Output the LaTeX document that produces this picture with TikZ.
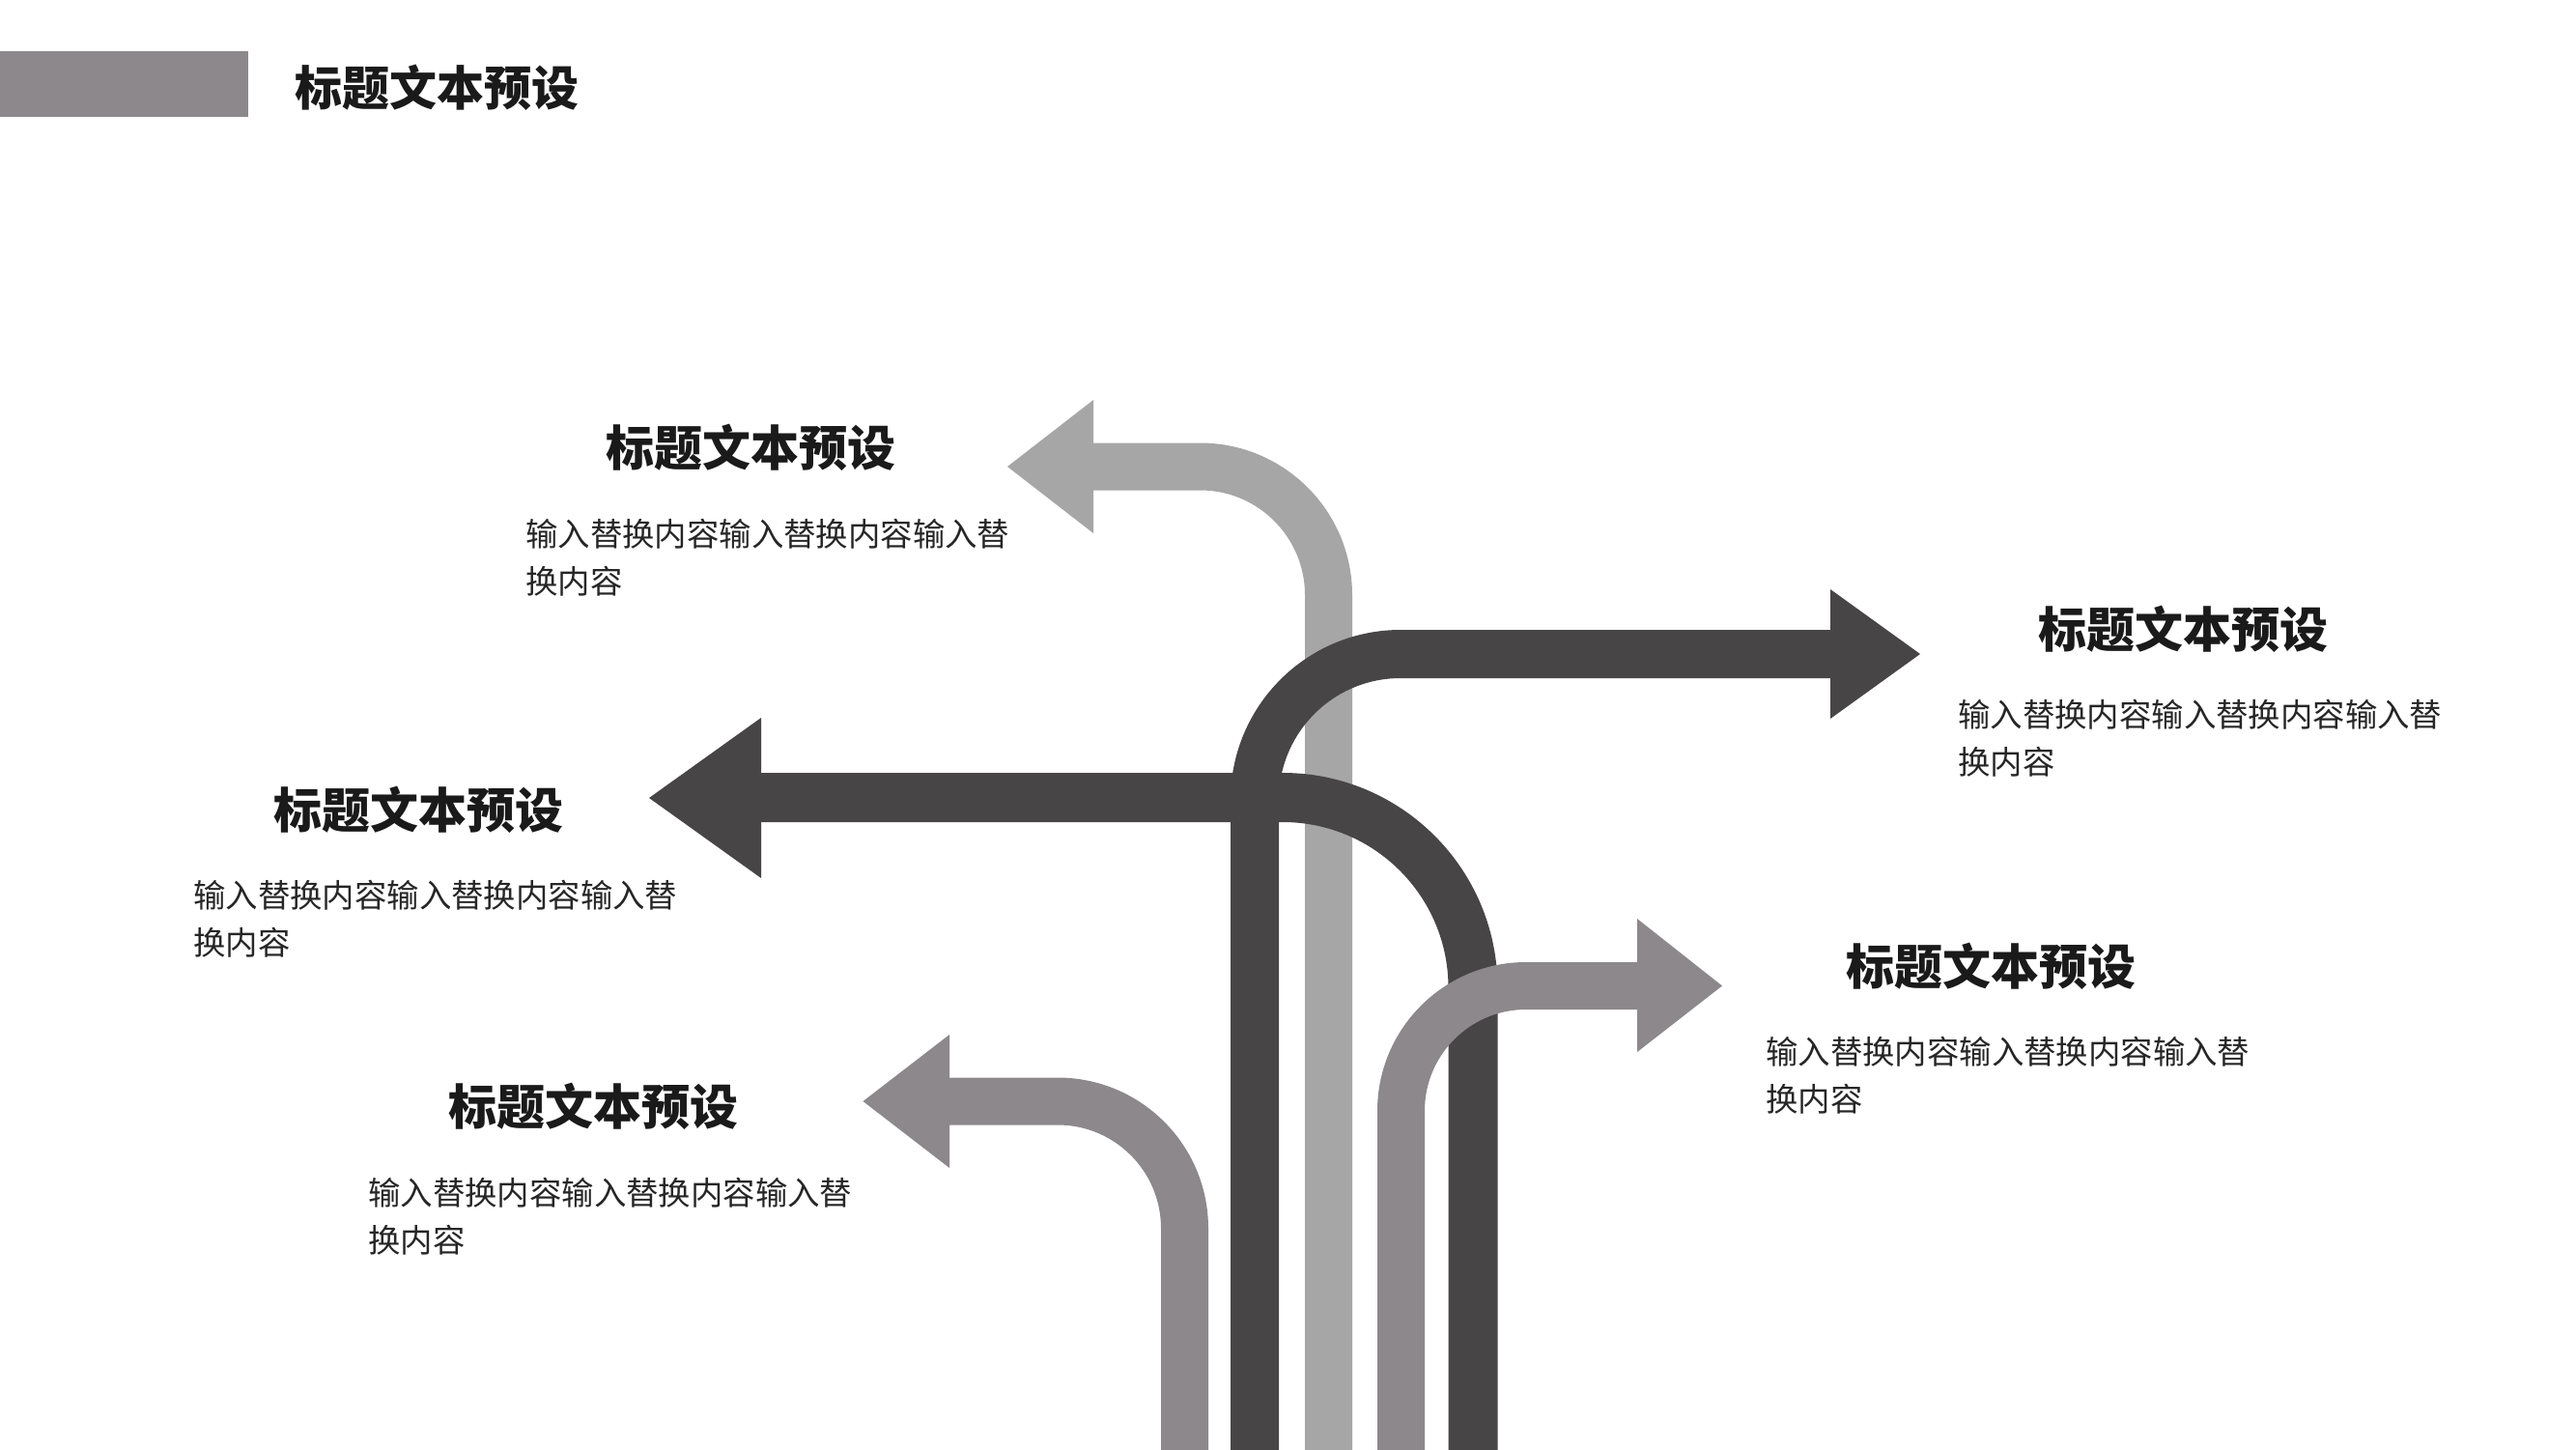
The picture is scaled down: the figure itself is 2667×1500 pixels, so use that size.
\documentclass[tikz,border=0pt]{standalone}
\usepackage{fontspec}
\setmainfont{Noto Sans CJK SC}
\definecolor{lightg}{HTML}{A6A6A6}
\definecolor{darkg}{HTML}{474546}
\definecolor{midg}{HTML}{8C888B}
\definecolor{txt}{HTML}{1A1A1A}
\definecolor{bodytxt}{HTML}{262626}
\tikzset{
  titletext/.style={anchor=west, inner sep=0pt, text=txt, font=\fontsize{50}{60}\selectfont\bfseries},
  bodytext/.style={anchor=west, inner sep=0pt, align=left, text=bodytxt, font=\fontsize{33.4}{49}\selectfont},
  lshaft/.style={draw=lightg, line width=49pt},
  dshaft/.style={draw=darkg, line width=50pt},
  mshaft/.style={draw=midg, line width=49pt}
}
\begin{document}
\begin{tikzpicture}[x=1pt,y=-1pt]
\fill[white] (0,0) rectangle (2667,1500);
\useasboundingbox (0,0) rectangle (2667,1500);
% header bar and title
\fill[midg] (0,53) rectangle (257,121);
\node[titletext, font=\fontsize{49}{58}\selectfont\bfseries] (head) at (305,91) {标题文本预设};
% light gray arrow (up-left)
\draw[lshaft, rounded corners=133pt] (1375.5,1510) -- (1375.5,483) -- (1130,483);
\fill[lightg] (1132,414) -- (1043,483) -- (1132,552) -- cycle;
% dark arrow (right)
\draw[dshaft, rounded corners=151pt] (1299,1510) -- (1299,677) -- (1897,677);
\fill[darkg] (1895,610) -- (1988,677) -- (1895,744) -- cycle;
% dark arrow (left)
\draw[darkg, line width=51pt, rounded corners=197pt] (1525,1510) -- (1525,825.5) -- (786,825.5);
\fill[darkg] (788,743) -- (672,826) -- (788,909) -- cycle;
% mid gray arrow (right)
\draw[mshaft, rounded corners=129.5pt] (1450.5,1510) -- (1450.5,1020.5) -- (1697,1020.5);
\fill[midg] (1695,951) -- (1783,1020.5) -- (1695,1089) -- cycle;
% mid gray arrow (left)
\draw[mshaft, rounded corners=131.5pt] (1226.5,1510) -- (1226.5,1140) -- (981,1140);
\fill[midg] (983,1071) -- (893.5,1140) -- (983,1209) -- cycle;
% text groups
\node[titletext] (tA) at (627,463) {标题文本预设};
\node[bodytext] (bA) at (544,577.5) {输入替换内容输入替换内容输入替\\换内容};
\node[titletext] (tB) at (2110,651) {标题文本预设};
\node[bodytext] (bB) at (2027,764) {输入替换内容输入替换内容输入替\\换内容};
\node[titletext] (tC) at (283,838) {标题文本预设};
\node[bodytext] (bC) at (200,951) {输入替换内容输入替换内容输入替\\换内容};
\node[titletext] (tD) at (1911,1000) {标题文本预设};
\node[bodytext] (bD) at (1828,1113) {输入替换内容输入替换内容输入替\\换内容};
\node[titletext] (tE) at (464,1145) {标题文本预设};
\node[bodytext] (bE) at (381,1259) {输入替换内容输入替换内容输入替\\换内容};
\end{tikzpicture}
\end{document}
